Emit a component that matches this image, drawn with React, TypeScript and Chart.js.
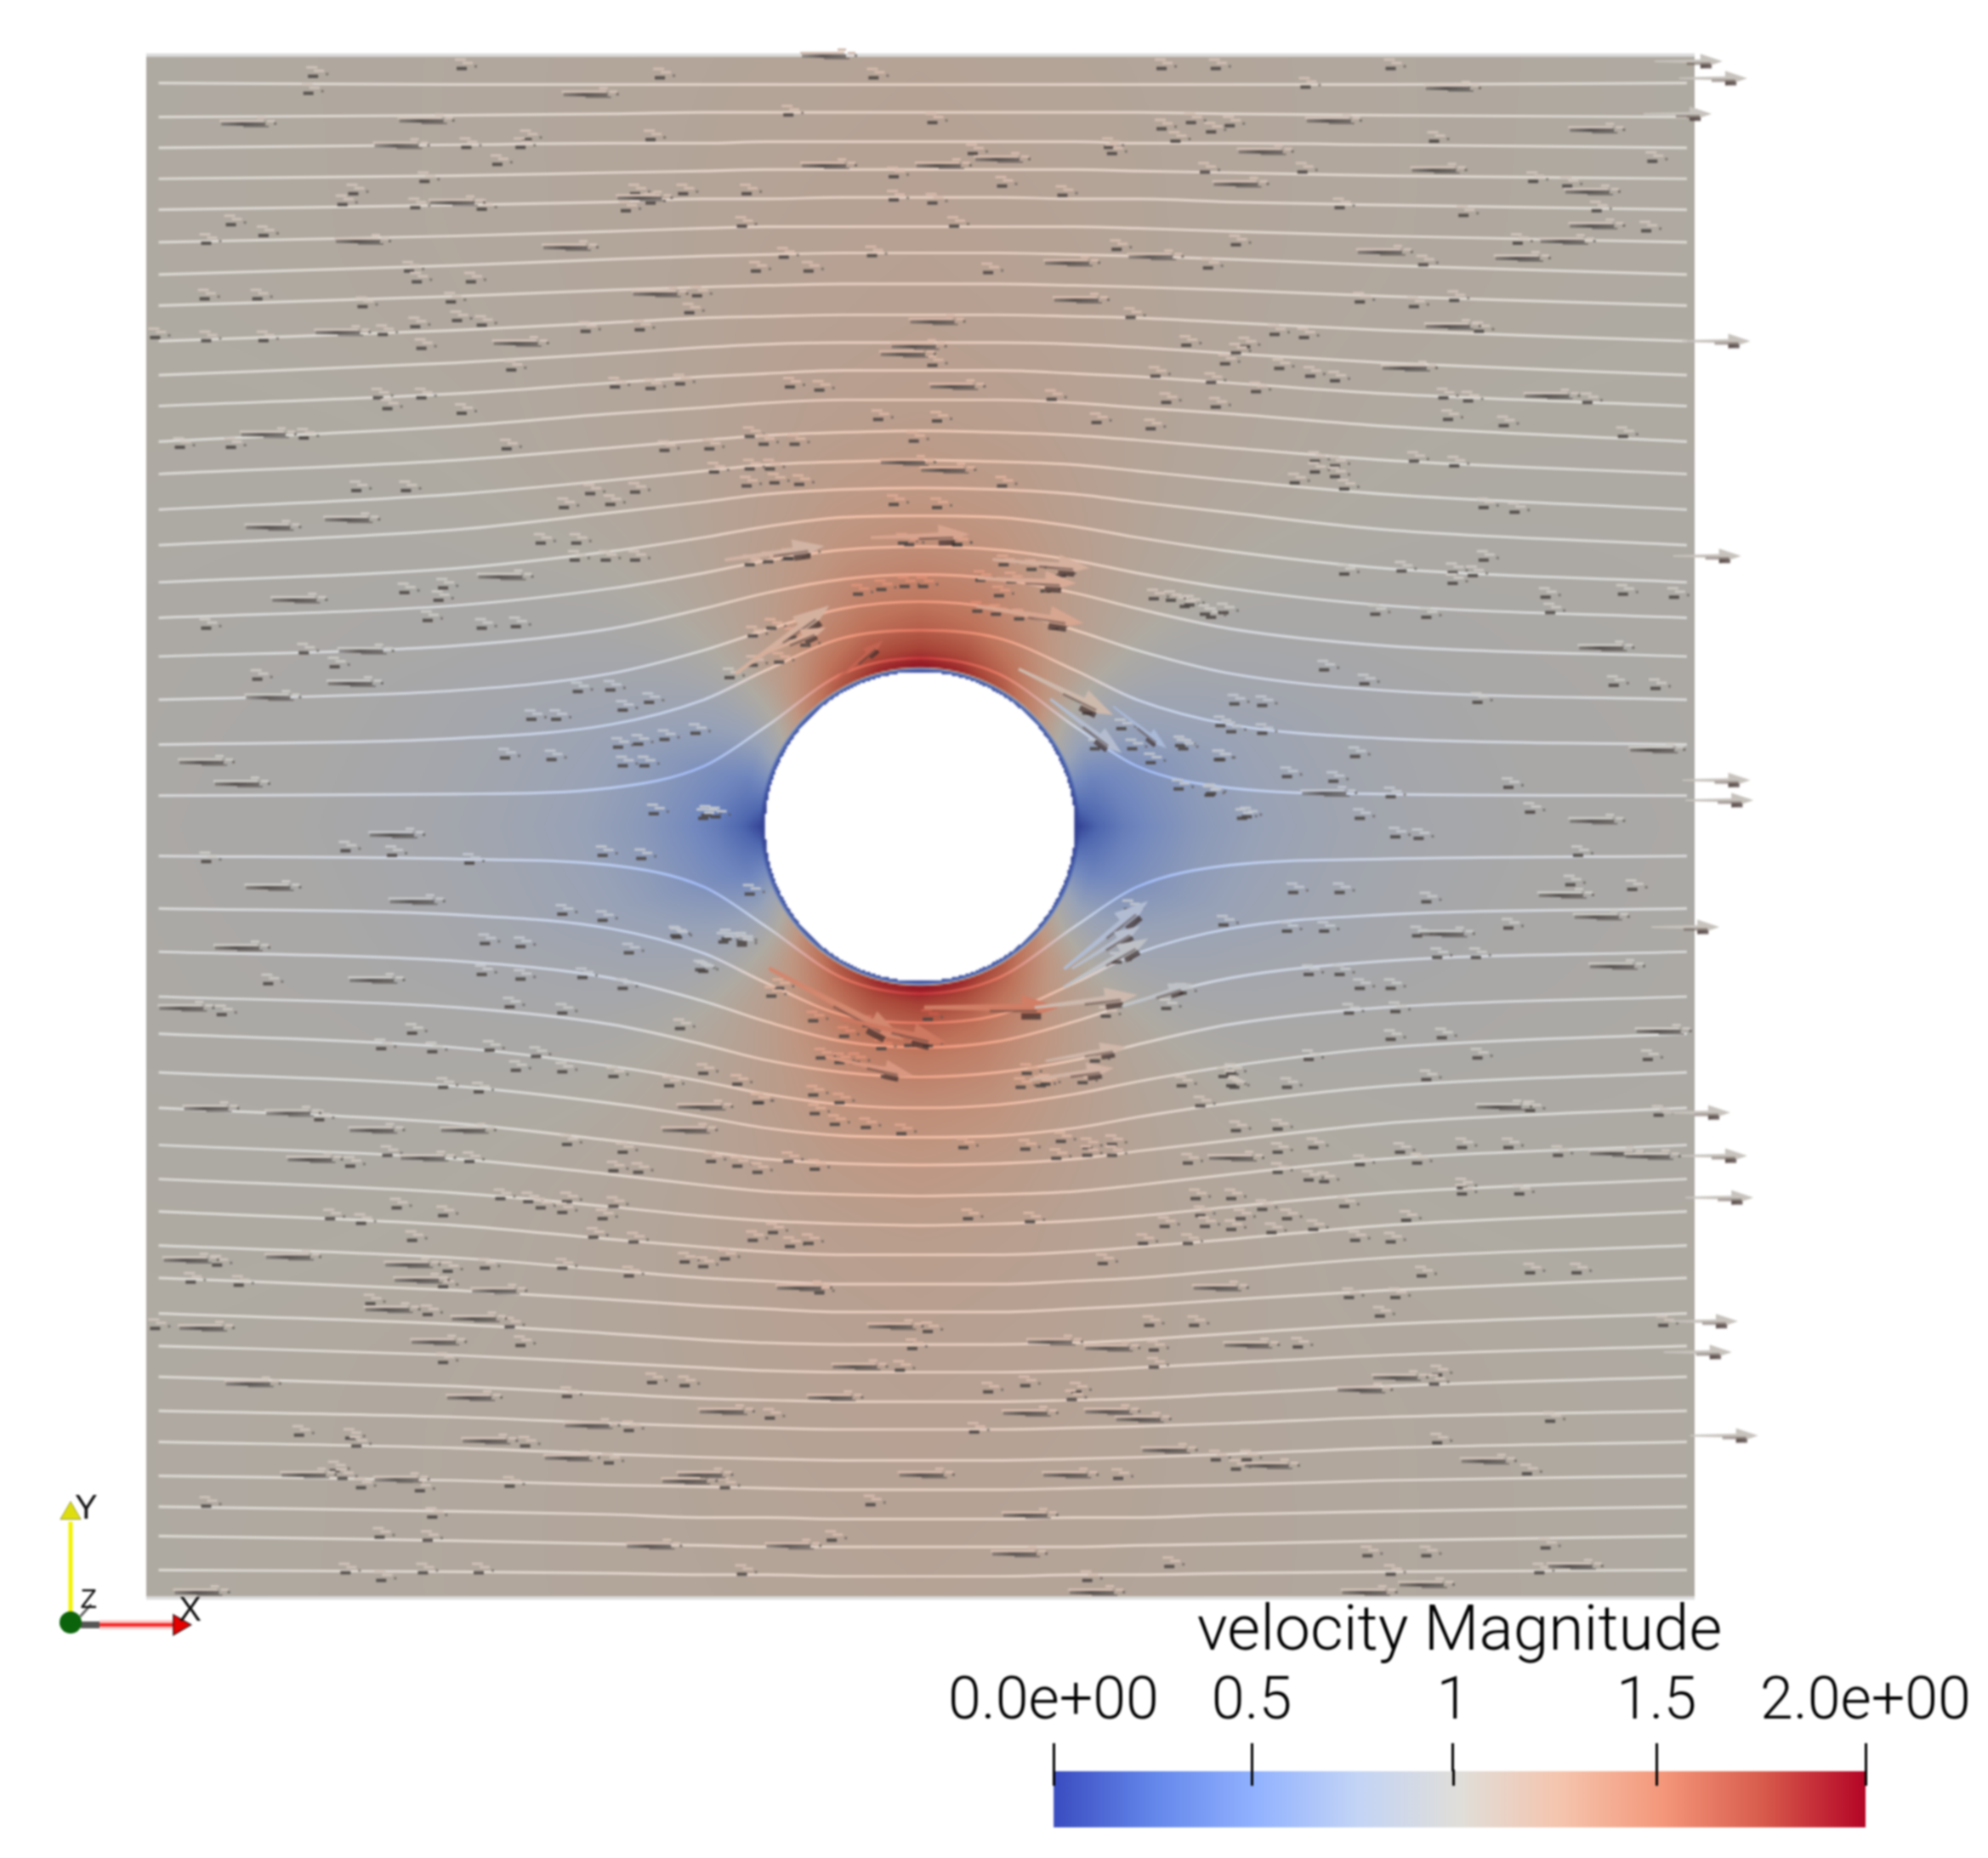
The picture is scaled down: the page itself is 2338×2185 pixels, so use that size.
import React, { useEffect, useRef } from "react";
import { Chart, registerables } from "chart.js";

Chart.register(...registerables);

/* ---------- colour map ---------- */
const CM_VALUES = [0, 0.25, 0.5, 0.75, 1, 1.25, 1.5, 1.75, 2];
const CM_COLORS = [
  [58, 76, 192], [100, 135, 235], [146, 178, 255], [195, 212, 245], [224, 222, 217],
  [245, 196, 173], [244, 151, 122], [215, 90, 75], [180, 4, 38],
];
const LEGEND_TICK_VALUES = [0, 0.488, 0.984, 1.485, 2];
const LEGEND_TICK_LABELS = ["0.0e+00", "0.5", "1", "1.5", "2.0e+00"];

/* ---------- velocity magnitude (radius / angle table around the cylinder) ---------- */
const FIELD_RADII = [1, 1.02, 1.035, 1.07, 1.15, 1.3, 1.5, 1.8, 2.2, 2.7, 3.3, 4, 5, 6, 7.2];
const FIELD_ANGLES = [0, 15, 30, 45, 60, 75, 90];
const SPEED_AT_0 = [0.02, 0.03, 0.06, 0.12, 0.24, 0.4, 0.53, 0.66, 0.75, 0.83, 0.89, 0.93, 0.96, 0.97, 0.98];
const SPEED_AT_15 = [0.05, 0.2, 0.5, 0.48, 0.45, 0.52, 0.6, 0.7, 0.79, 0.86, 0.91, 0.95, 0.97, 0.98, 0.99];
const SPEED_AT_30 = [0.05, 0.3, 0.95, 0.9, 0.82, 0.79, 0.8, 0.85, 0.9, 0.94, 0.97, 0.98, 0.99, 1, 1];
const SPEED_AT_45 = [0.05, 0.35, 1.37, 1.33, 1.25, 1.16, 1.1, 1.06, 1.04, 1.03, 1.03, 1.02, 1.02, 1.01, 1];
const SPEED_AT_60 = [0.05, 0.35, 1.67, 1.62, 1.53, 1.39, 1.28, 1.19, 1.13, 1.09, 1.07, 1.05, 1.04, 1.03, 1.02];
const SPEED_AT_75 = [0.05, 0.35, 1.87, 1.81, 1.7, 1.54, 1.41, 1.29, 1.2, 1.14, 1.11, 1.09, 1.07, 1.05, 1.03];
const SPEED_AT_90 = [0.05, 0.35, 1.94, 1.88, 1.76, 1.6, 1.45, 1.32, 1.23, 1.16, 1.13, 1.11, 1.09, 1.08, 1.07];
const SPEED_TABLE = [SPEED_AT_0, SPEED_AT_15, SPEED_AT_30, SPEED_AT_45, SPEED_AT_60, SPEED_AT_75, SPEED_AT_90];

/* ---------- streamlines: y at stations, left half, mirrored on the right ---------- */
const STATION_X = [-4.92, -3, -2, -1.4, -1, -0.5, 0, 0.5, 1, 1.4, 2, 3, 4.95];
const LINES_TOP = [
  [4.81, 4.8, 4.8, 4.8, 4.8, 4.8, 4.8],
  [4.59, 4.6, 4.61, 4.62, 4.62, 4.62, 4.62],
  [4.39, 4.41, 4.42, 4.42, 4.43, 4.43, 4.43],
  [4.19, 4.21, 4.23, 4.24, 4.25, 4.25, 4.25],
  [3.99, 4.02, 4.04, 4.06, 4.06, 4.07, 4.07],
  [3.78, 3.82, 3.85, 3.87, 3.88, 3.88, 3.88],
  [3.57, 3.63, 3.67, 3.69, 3.7, 3.71, 3.71],
  [3.37, 3.43, 3.47, 3.49, 3.5, 3.51, 3.51],
  [3.14, 3.21, 3.26, 3.29, 3.3, 3.31, 3.31],
  [2.92, 3.0, 3.06, 3.1, 3.12, 3.13, 3.13],
  [2.72, 2.8, 2.87, 2.91, 2.93, 2.95, 2.95],
  [2.49, 2.59, 2.67, 2.71, 2.74, 2.76, 2.76],
  [2.28, 2.37, 2.45, 2.5, 2.53, 2.55, 2.56],
  [2.05, 2.15, 2.24, 2.3, 2.34, 2.36, 2.37],
  [1.82, 1.92, 2.03, 2.1, 2.15, 2.18, 2.19],
  [1.58, 1.67, 1.78, 1.87, 1.94, 2.0, 2.01],
  [1.35, 1.43, 1.54, 1.64, 1.72, 1.79, 1.81],
  [1.1, 1.17, 1.28, 1.41, 1.51, 1.6, 1.63],
  [0.82, 0.88, 0.99, 1.14, 1.27, 1.41, 1.455],
  [0.53, 0.57, 0.66, 0.82, 1.01, 1.22, 1.27],
  [0.2, 0.21, 0.25, 0.39, 0.645, 0.99, 1.09],
];
const LINES_BOTTOM = [
  [-0.19, -0.21, -0.25, -0.39, -0.645, -0.98, -1.08],
  [-0.53, -0.57, -0.66, -0.82, -1.01, -1.22, -1.27],
  [-0.81, -0.87, -0.98, -1.13, -1.26, -1.39, -1.43],
  [-1.1, -1.17, -1.28, -1.41, -1.51, -1.59, -1.62],
  [-1.34, -1.43, -1.55, -1.65, -1.73, -1.8, -1.82],
  [-1.59, -1.68, -1.79, -1.88, -1.95, -2.0, -2.01],
  [-1.82, -1.92, -2.03, -2.1, -2.15, -2.18, -2.19],
  [-2.06, -2.15, -2.25, -2.32, -2.36, -2.38, -2.39],
  [-2.28, -2.37, -2.46, -2.52, -2.55, -2.57, -2.58],
  [-2.49, -2.58, -2.67, -2.72, -2.75, -2.77, -2.77],
  [-2.71, -2.79, -2.87, -2.92, -2.94, -2.96, -2.96],
  [-2.92, -3.0, -3.06, -3.1, -3.12, -3.14, -3.14],
  [-3.15, -3.22, -3.28, -3.32, -3.34, -3.35, -3.35],
  [-3.36, -3.42, -3.47, -3.5, -3.52, -3.53, -3.53],
  [-3.56, -3.62, -3.67, -3.7, -3.71, -3.72, -3.72],
  [-3.78, -3.82, -3.86, -3.88, -3.89, -3.9, -3.9],
  [-3.98, -4.02, -4.06, -4.08, -4.09, -4.1, -4.1],
  [-4.2, -4.23, -4.26, -4.27, -4.28, -4.29, -4.29],
  [-4.4, -4.43, -4.45, -4.47, -4.47, -4.48, -4.48],
  [-4.59, -4.62, -4.64, -4.65, -4.66, -4.66, -4.66],
  [-4.81, -4.82, -4.83, -4.84, -4.84, -4.85, -4.85],
];

/* ---------- glyphs: [x, y] ---------- */
const LONG_GLYPHS = [
  [-0.59,4.99],[-2.13,4.74],[-4.34,4.55],[-3.19,4.57],[2.67,4.57],[3.44,4.78],[4.37,4.51],[-3.35,4.41],[2.23,4.37],[0.53,4.32],
  [-0.59,4.28],[0.15,4.28],[3.35,4.25],[2.07,4.16],[4.34,4.11],[-2.99,4.04],[-1.78,4.07],[-3.6,3.79],[4.18,3.79],[4.37,3.89],
  [-2.26,3.75],[1.52,3.69],[3.89,3.68],[3.0,3.72],[0.98,3.65],[-1.68,3.45],[1.04,3.41],[3.44,3.24],[0.11,3.27],[-3.73,3.2],
  [-2.58,3.13],[-0.08,3.06],[-0.01,3.11],[3.16,2.97],[0.24,2.85],[4.08,2.79],[-4.21,2.54],[-4.18,1.94],[-3.67,1.99],[-0.08,2.36],
  [0.18,2.31],[-4.61,0.42],[-4.38,0.28],[-4.01,1.47],[-2.68,1.62],[-3.58,1.14],[-3.65,0.93],[-4.18,0.84],[4.43,1.16],[4.76,0.5],
  [4.37,0.04],[-3.38,-0.05],[-4.18,-0.39],[-3.25,-0.48],[4.17,-0.44],[4.4,-0.58],[-3.51,-0.99],[4.5,-0.9],[4.8,-1.32],[2.64,0.22],
  [3.4,-0.69],[-4.38,-0.78],[-4.74,-1.17],[-4.58,-1.82],[-4.05,-1.85],[-1.39,-1.81],[-1.49,-1.96],[-3.51,-1.96],[-2.92,-1.96],
  [-3.91,-2.15],[-3.18,-2.14],[2.04,-2.14],[-4.05,-2.78],[-4.71,-2.8],[-3.28,-2.83],[-3.22,-2.93],[-2.72,-3.0],[-0.75,-2.98],
  [1.94,-2.98],[-3.41,-3.12],[-2.85,-3.18],[-4.61,-3.24],[-0.16,-3.23],[-3.11,-3.33],[0.87,-3.33],[1.24,-3.37],[2.14,-3.35],
  [-0.39,-3.49],[-4.31,-3.6],[3.1,-3.56],[-2.88,-3.69],[-0.55,-3.69],[2.87,-3.64],[0.71,-3.79],[-1.25,-3.78],[1.44,-3.83],
  [1.24,-3.78],[-2.12,-3.87],[-2.78,-3.97],[1.61,-4.03],[-2.25,-4.08],[3.67,-4.1],[2.27,-4.13],[0.04,-4.19],[-3.95,-4.19],
  [-3.35,-4.22],[-1.49,-4.23],[-1.39,-4.19],[0.97,-4.19],[0.71,-4.45],[-0.82,-4.65],[-1.72,-4.65],[0.64,-4.7],[1.14,-4.95],
  [2.9,-4.95],[3.27,-4.9],[-4.64,-4.95],[4.23,-4.78],[4.5,-2.11],[4.73,-2.13],[3.77,-1.81],
];
const SMALL_GLYPHS = [
  [-2.93,4.92],[-3.89,4.87],[-1.65,4.86],[-0.27,4.86],[1.59,4.92],[1.94,4.92],[3.07,4.92],[2.52,4.8],[-3.92,4.76],[-0.82,4.62],
  [0.11,4.57],[1.78,4.57],[2.03,4.55],[1.59,4.53],[1.91,4.51],[-2.51,4.46],[-1.71,4.46],[-2.9,4.41],[-2.55,4.41],[1.68,4.45],
  [3.35,4.45],[1.25,4.41],[0.37,4.37],[1.27,4.37],[4.76,4.32],[-2.7,4.3],[1.87,4.25],[2.5,4.25],[-0.14,4.22],[-3.17,4.19],
  [3.99,4.19],[0.56,4.16],[4.21,4.16],[-3.63,4.11],[-1.81,4.11],[-1.5,4.11],[-1.09,4.11],[0.95,4.1],[-0.14,4.07],[0.11,4.05],
  [-3.7,4.04],[-3.23,4.02],[-2.8,4.01],[-1.71,4.05],[-1.87,4.0],[2.74,4.02],[3.54,3.97],[4.4,4.0],[-4.42,3.91],[-1.12,3.9],
  [0.25,3.9],[-4.21,3.84],[4.72,3.87],[-4.58,3.79],[3.89,3.79],[2.07,3.78],[1.3,3.75],[-0.85,3.7],[-0.28,3.71],[3.28,3.65],
  [1.89,3.63],[-1.03,3.61],[-0.69,3.61],[0.47,3.6],[-3.27,3.61],[-3.22,3.54],[-2.87,3.54],[-4.59,3.43],[-4.25,3.43],[-3.57,3.38],
  [-3.0,3.41],[-1.41,3.45],[-1.46,3.34],[2.87,3.41],[3.48,3.42],[3.22,3.38],[1.39,3.31],[-2.96,3.29],[-2.8,3.26],[-3.23,3.25],
  [-2.13,3.22],[-1.78,3.23],[3.64,3.22],[2.32,3.2],[2.51,3.18],[-3.44,3.2],[-4.58,3.16],[-4.21,3.16],[-4.91,3.18],[-3.19,3.11],
  [1.75,3.13],[2.13,3.12],[2.07,3.08],[-2.61,2.97],[2.0,3.01],[2.35,2.98],[0.11,3.0],[1.55,2.93],[2.55,2.93],[2.71,2.9],
  [-1.94,2.86],[-1.71,2.85],[-1.52,2.88],[-0.81,2.86],[-0.62,2.84],[1.91,2.89],[2.2,2.83],[-3.47,2.79],[-3.19,2.79],[-3.41,2.72],
  [0.88,2.78],[1.62,2.76],[1.94,2.73],[3.41,2.79],[3.57,2.77],[4.34,2.76],[-2.93,2.69],[-0.24,2.65],[0.14,2.64],[1.17,2.63],
  [1.52,2.59],[3.44,2.65],[3.8,2.61],[4.57,2.54],[-3.95,2.53],[-4.75,2.47],[-4.42,2.47],[-2.64,2.46],[-1.07,2.54],[-0.98,2.49],
  [-0.78,2.49],[-1.33,2.46],[-1.62,2.45],[-0.01,2.51],[2.58,2.38],[3.22,2.38],[3.48,2.35],[2.71,2.35],[2.58,2.31],[2.71,2.28],
  [2.45,2.24],[2.77,2.2],[-1.3,2.31],[-1.07,2.33],[-0.94,2.33],[-1.09,2.22],[-0.91,2.24],[-0.75,2.23],[0.56,2.22],[-3.61,2.19],
  [-3.29,2.19],[-1.81,2.18],[-2.1,2.17],[-1.97,2.1],[-2.27,2.08],[-0.14,2.1],[0.14,2.08],[3.67,2.08],[3.87,2.05],[-0.08,1.85],
  [0.27,1.84],[-2.42,1.85],[-2.19,1.85],[-2.2,1.74],[-2.0,1.74],[-1.81,1.74],[-0.82,1.75],[3.67,1.74],
  [-3.3,1.53],[-3.08,1.48],[-3.05,1.56],[-3.15,1.35],[-2.8,1.3],[-2.58,1.31],[-4.58,1.3],[-3.95,1.14],[-3.75,1.05],[-4.25,0.97],
  [-2.18,0.89],[-1.97,0.9],[-2.48,0.71],[-2.32,0.71],[-1.89,0.77],[-1.72,0.82],[-1.92,0.53],[-1.79,0.55],[-1.42,0.62],[-1.62,0.58],
  [-2.65,0.46],[-2.35,0.45],[-1.89,0.41],[-1.75,0.41],[-1.69,0.1],[-1.35,0.09],[-3.68,-0.14],[-3.38,-0.17],[-4.58,-0.21],[-2.88,-0.22],
  [-2.02,-0.17],[-1.77,-0.19],[-2.28,-0.55],[-2.02,-0.59],[-1.55,-0.69],[-1.22,-0.71],[-1.12,-0.73],[-2.78,-0.74],[-2.55,-0.76],[-1.85,-0.8],
  [-1.39,-0.91],[-2.8,-0.94],[-2.55,-0.97],[-2.15,-0.96],[-1.89,-1.03],[-4.18,-1.0],[-2.62,-1.15],[-2.28,-1.19],[-4.48,-1.2],[-3.25,-1.32],
  [-3.45,-1.42],[-3.12,-1.44],[-2.75,-1.43],[-2.45,-1.47],[-1.52,-1.29],[-2.58,-1.56],[-2.28,-1.57],[-1.95,-1.6],
  [1.91,1.37],[1.74,1.44],[2.77,1.65],[3.14,1.67],[3.47,1.66],[3.6,1.64],[3.47,1.59],[4.07,1.5],[4.57,1.52],[4.9,1.5],
  [4.1,1.4],[2.97,1.39],[3.3,1.37],[2.64,1.03],[2.9,0.94],[4.51,0.93],[4.78,0.91],[3.63,0.82],[2.24,0.8],[1.97,0.67],
  [2.24,0.62],[1.71,0.54],[1.97,0.45],[2.84,0.47],[2.4,0.34],[2.7,0.31],[3.83,0.27],[1.91,0.23],[3.07,0.21],[2.14,0.08],
  [2.87,0.07],[3.97,0.11],[3.1,-0.05],[3.25,-0.06],[4.28,-0.17],[2.44,-0.41],[2.74,-0.41],[4.23,-0.36],[4.63,-0.39],[3.3,-0.47],
  [2.4,-0.66],[2.64,-0.66],[3.83,-0.64],[3.24,-0.69],[3.37,-0.83],[3.62,-0.83],[2.54,-0.94],[2.74,-0.94],[2.87,-1.03],[3.07,-1.03],
  [2.8,-1.19],[3.1,-1.18],[3.07,-1.36],[3.4,-1.35],[3.63,-1.48],[4.73,-1.49],[2.54,-1.49],[2.04,-1.58],[3.3,-1.62],
  [-3.05,-1.67],[-2.82,-1.7],[-3.85,-1.88],[-0.65,-1.84],[-1.02,-1.77],[-0.49,-1.77],[-0.52,-1.91],[-0.32,-1.93],[-0.09,-1.97],[1.84,-1.79],
  [2.04,-1.66],[0.68,-1.67],[0.84,-1.65],[2.4,-1.67],[4.8,-1.85],[3.97,-1.82],[2.34,-1.94],[2.07,-1.95],[-2.25,-2.04],[-1.89,-2.09],
  [-3.65,-2.18],[-3.41,-2.11],[-2.88,-2.15],[-1.32,-2.15],[-1.15,-2.18],[-0.82,-2.15],[-0.65,-2.2],[-1.95,-2.21],[-1.79,-2.22],[-1.02,-2.22],
  [0.31,-2.06],[0.71,-2.07],[0.94,-2.02],[1.11,-2.06],[1.27,-2.04],[0.91,-2.13],[1.11,-2.11],[1.27,-2.11],[1.76,-2.16],[2.34,-2.09],
  [2.57,-2.06],[2.87,-2.17],[3.13,-2.09],[3.24,-2.16],[3.53,-2.06],[3.83,-2.06],[4.15,-2.11],[2.34,-2.22],[2.54,-2.27],[2.64,-2.28],
  [3.53,-2.32],[3.9,-2.36],[3.53,-2.36],[1.81,-2.39],[2.04,-2.39],[-2.68,-2.39],[-2.5,-2.41],[-2.25,-2.41],[-2.42,-2.45],[-2.28,-2.48],
  [-1.95,-2.44],[-2.02,-2.52],[-3.35,-2.45],[-3.05,-2.5],[-3.78,-2.52],[-3.58,-2.55],[0.34,-2.52],[0.74,-2.54],[1.84,-2.5],[2.1,-2.52],
  [2.4,-2.52],[2.24,-2.46],[1.61,-2.57],[1.87,-2.57],[2.04,-2.59],[2.3,-2.61],[2.57,-2.59],[2.84,-2.66],[3.07,-2.67],[3.17,-2.53],
  [2.77,-2.44],[-2.08,-2.64],[-1.82,-2.67],[-1.05,-2.66],[-0.81,-2.7],[-0.69,-2.68],[-0.92,-2.61],[1.47,-2.68],[1.76,-2.68],[-3.25,-2.66],
  [-1.49,-2.8],[-1.23,-2.78],[-1.37,-2.83],[1.21,-2.81],[-4.51,-2.82],[-2.78,-2.84],[-2.28,-2.84],[-1.85,-2.89],[-3.02,-2.86],[-4.68,-2.93],
  [-4.37,-2.95],[-3.05,-2.96],[3.27,-2.89],[3.97,-2.87],[4.27,-2.87],[-0.62,-3.0],[2.8,-3.03],[3.1,-3.03],[-3.52,-3.07],[-3.15,-3.14],
  [-2.62,-3.22],[-4.91,-3.23],[1.51,-3.21],[1.8,-3.21],[3.0,-3.15],[0.08,-3.25],[4.83,-3.21],[-2.55,-3.34],[-0.02,-3.36],[1.54,-3.37],
  [2.47,-3.35],[-3.05,-3.45],[-0.1,-3.5],[1.54,-3.48],[-1.7,-3.58],[-1.49,-3.6],[0.71,-3.6],[0.47,-3.64],[1.04,-3.64],[1.01,-3.69],
  [3.37,-3.53],[3.35,-3.59],[-2.25,-3.67],[-0.94,-3.81],[4.1,-3.83],[-3.98,-3.92],[-3.65,-3.94],[-1.85,-3.89],[0.38,-3.9],[-3.61,-3.99],
  [-2.52,-3.99],[3.37,-3.97],[1.94,-4.08],[2.14,-4.08],[2.07,-4.14],[-1.98,-4.1],[-3.75,-4.15],[-3.7,-4.2],[-3.58,-4.26],[-3.2,-4.28],
  [-2.62,-4.25],[-1.23,-4.26],[1.31,-4.2],[3.95,-4.17],[-0.29,-4.37],[-4.58,-4.38],[-3.12,-4.45],[-3.46,-4.58],[-3.15,-4.6],[-0.54,-4.6],
  [4.07,-4.65],[2.92,-4.7],[3.3,-4.7],[1.64,-4.77],[-3.68,-4.81],[-3.45,-4.86],[-3.18,-4.81],[-2.82,-4.81],[-1.12,-4.82],[3.07,-4.82],
  [1.11,-4.86],[4.03,-4.81],
  [-1.07,1.71],[-0.95,1.73],[-0.82,1.75],[-0.71,1.78],[-0.04,1.84],[0.27,1.84],[0.57,1.71],[0.75,1.68],[0.94,1.64],[-0.37,1.52],
  [-0.22,1.55],[-0.07,1.57],[0.05,1.57],[0.42,1.61],[0.62,1.6],[0.54,1.51],[0.84,1.54],[0.4,1.41],[0.52,1.39],[0.67,1.36],
  [0.89,1.3],[1.54,1.49],[1.65,1.48],[1.77,1.45],[1.87,1.39],[1.99,1.4],[-1.05,1.25],[-0.93,1.3],[-0.8,1.24],[-0.71,1.19],
  [-1.05,1.06],[-0.88,1.08],[-1.2,0.98],[1.11,0.75],[1.33,0.65],[1.4,0.52],[1.52,0.43],[1.16,0.52],[1.96,0.45],[1.73,0.52],
  [1.7,0.26],[1.9,0.22],[2.04,0.63],[2.06,0.81],[2.11,0.07],[-1.37,0.07],[-1.29,0.08],[-1.54,-0.7],[-1.24,-0.73],[-1.12,-0.75],
  [-1.37,-0.92],[-1.07,-0.42],[-0.88,-1.03],[-0.93,-1.08],[-0.66,-1.24],[-0.46,-1.34],[-0.31,-1.27],[-0.22,-1.42],[0.08,-1.23],[-0.04,-1.4],
  [-0.19,-1.6],[0.08,-1.4],[1.38,-0.52],[1.3,-0.86],[1.72,-1.06],[1.23,-1.21],[1.62,-1.16],[1.16,-1.5],[1.08,-1.64],[0.81,-1.66],
  [0.72,-1.58],[1.99,-0.62],[1.72,-1.66],[1.99,-1.6],[2.06,-1.67],[-1.15,-1.65],[-1.37,-1.58],[-1.59,-1.66],[-0.61,-1.48],[-0.49,-1.51],
  [-0.39,-1.51],[-1.01,-1.77],[-0.66,-1.72],
];
/* big arrows: [x, y, length, clockwise angle in degrees] */
const BIG_ARROWS = [
  [0.46,-1.17,0.87,0],[-0.4,1.07,0.42,-40],[0.94,0.87,0.68,26],[1.07,0.65,0.58,37],[1.42,0.64,0.44,38],
  [0.71,1.37,0.7,9],[0.69,1.59,0.64,3],[0.78,1.7,0.63,5],[-0.89,1.21,0.75,-36],[-0.84,1.19,0.5,-23],
  [0,1.88,0.64,-2],[1.2,-0.7,0.7,-39],[1.2,-0.78,0.52,-32],[1.2,-0.88,0.63,-30],[1.07,-1.13,0.67,-7],
  [1.53,-1.09,0.48,-18],[-0.54,-1.15,0.99,28],[-0.17,-1.32,0.7,13],[0.98,-1.6,0.55,-8],[1.07,-1.47,0.53,-10],
  [-0.33,-1.55,0.58,12],[-0.94,1.77,0.65,-8],
];
/* arrows leaving the right edge: [y of arrow, x of tip] */
const EDGE_ARROWS = [
  [4.95,5.18],[4.84,5.34],[4.61,5.11],[3.14,5.36],[1.75,5.3],[0.3,5.36],[0.17,5.38],[-0.65,5.16],
  [-1.85,5.23],[-2.13,5.34],[-2.4,5.38],[-3.2,5.28],[-3.4,5.24],[-3.94,5.41],
];

const TRIAD_LABELS = ["X", "Y", "Z"];
const LEGEND_TITLE = "velocity Magnitude";
const PAGE_W = 2338;
const PAGE_H = 2185;

/* ---------- helpers ---------- */
function lerpIdx(arr: number[], v: number) {
  if (v <= arr[0]) return [0, 0];
  for (let i = 1; i < arr.length; i++) {
    if (v <= arr[i]) return [i - 1, (v - arr[i - 1]) / (arr[i] - arr[i - 1])];
  }
  return [arr.length - 2, 1];
}
function speedAt(x: number, y: number) {
  const r = Math.hypot(x, y);
  const th = (Math.atan2(Math.abs(y), Math.abs(x)) * 180) / Math.PI;
  const [ir, fr] = lerpIdx(FIELD_RADII, r);
  const [ia, fa] = lerpIdx(FIELD_ANGLES, th);
  const ia2 = Math.min(ia + 1, FIELD_ANGLES.length - 1);
  const a = SPEED_TABLE[ia][ir] * (1 - fr) + SPEED_TABLE[ia][ir + 1] * fr;
  const b = SPEED_TABLE[ia2][ir] * (1 - fr) + SPEED_TABLE[ia2][ir + 1] * fr;
  return a * (1 - fa) + b * fa;
}
function cmap(v: number) {
  const [i, f] = lerpIdx(CM_VALUES, Math.max(0, Math.min(2, v)));
  const c0 = CM_COLORS[i];
  const c1 = CM_COLORS[i + 1];
  return [c0[0] + (c1[0] - c0[0]) * f, c0[1] + (c1[1] - c0[1]) * f, c0[2] + (c1[2] - c0[2]) * f];
}
const rgb = (c: number[], k = 1) => `rgb(${Math.round(c[0] * k)},${Math.round(c[1] * k)},${Math.round(c[2] * k)})`;
const rgba = (c: number[], a: number) => `rgba(${Math.round(c[0])},${Math.round(c[1])},${Math.round(c[2])},${a})`;

function smallSprite(v: number) {
  const c = document.createElement("canvas");
  c.width = 34; c.height = 20;
  const g = c.getContext("2d")!;
  g.fillStyle = rgb(cmap(Math.max(v, 0.85) + 0.05), 0.9);
  g.fillRect(3, 1, 13, 3);
  g.fillRect(12, 5, 12, 3);
  g.fillStyle = "rgba(74,68,66,0.85)";
  g.fillRect(5, 11, 12, 4);
  g.fillStyle = "rgba(90,85,80,0.6)";
  g.fillRect(26, 9, 3, 3);
  return c;
}
function longSprite(v: number) {
  const c = document.createElement("canvas");
  c.width = 72; c.height = 18;
  const g = c.getContext("2d")!;
  g.fillStyle = rgb(cmap(Math.max(v, 0.85) + 0.05), 0.9);
  g.fillRect(2, 5, 52, 3);
  g.fillRect(46, 1, 10, 3);
  g.fillRect(58, 5, 9, 3);
  const d = g.createLinearGradient(0, 0, 56, 0);
  d.addColorStop(0, "rgba(100,95,92,0.5)");
  d.addColorStop(0.5, "rgba(72,67,66,0.85)");
  d.addColorStop(1, "rgba(85,80,78,0.7)");
  g.fillStyle = d;
  g.fillRect(4, 8, 52, 4);
  g.fillStyle = "rgba(80,75,72,0.55)";
  g.fillRect(30, 12, 30, 2);
  g.fillStyle = "rgba(90,85,80,0.7)";
  g.fillRect(66, 8, 3, 3);
  return c;
}
function arrowSprite(lenPx: number, v: number) {
  const head = Math.min(lenPx * 0.3, 42);
  const half = Math.min(lenPx * 0.11, 15);
  const shaft = Math.max(2, Math.min(lenPx * 0.028, 4.5));
  const c = document.createElement("canvas");
  c.width = Math.ceil(lenPx) + 4; c.height = Math.ceil(half * 2) + 6;
  const g = c.getContext("2d")!;
  const cy = c.height / 2;
  const col = cmap(v);
  g.fillStyle = rgb(col, v > 1.4 ? 0.86 : 0.88);
  g.beginPath();
  g.moveTo(2, cy - shaft * 0.5);
  g.lineTo(lenPx - head, cy - shaft);
  g.lineTo(lenPx - head, cy - half);
  g.lineTo(lenPx + 2, cy);
  g.lineTo(lenPx - head, cy + half);
  g.lineTo(lenPx - head, cy + shaft);
  g.lineTo(2, cy + shaft * 0.5);
  g.closePath();
  g.fill();
  g.fillStyle = "rgba(75,55,50,0.45)";
  g.fillRect(lenPx * 0.5, cy + shaft * 0.6, lenPx * 0.35, 3);
  g.fillStyle = "rgba(55,40,38,0.7)";
  g.fillRect(lenPx - head, cy + half * 0.45, head * 0.55, Math.max(3, half * 0.5));
  return c;
}

function buildField(chart: any) {
  const sc = 2;
  const X = chart.scales.x;
  const Y = chart.scales.y;
  const x0 = X.getPixelForValue(-5);
  const x1 = X.getPixelForValue(5);
  const y0 = Y.getPixelForValue(5);
  const y1 = Y.getPixelForValue(-5);
  const w = Math.ceil((x1 - x0) / sc);
  const h = Math.ceil((y1 - y0) / sc);
  const off = document.createElement("canvas");
  off.width = w; off.height = h;
  const g = off.getContext("2d")!;
  const img = g.createImageData(w, h);
  for (let j = 0; j < h; j++) {
    const dy = Y.getValueForPixel(y0 + (j + 0.5) * sc);
    for (let i = 0; i < w; i++) {
      const dx = X.getValueForPixel(x0 + (i + 0.5) * sc);
      const k = (j * w + i) * 4;
      if (dx * dx + dy * dy < 1) { img.data[k + 3] = 0; continue; }
      const c = cmap(speedAt(dx, dy));
      img.data[k] = c[0] * 0.78;
      img.data[k + 1] = c[1] * 0.765;
      img.data[k + 2] = c[2] * 0.745;
      img.data[k + 3] = 255;
    }
  }
  g.putImageData(img, 0, 0);
  return { off, x0, y0, w: x1 - x0, h: y1 - y0 };
}

const fieldPlugin = {
  id: "fieldPlugin",
  beforeDatasetsDraw(chart: any) {
    if (!chart.$field) chart.$field = buildField(chart);
    const f = chart.$field;
    const ctx = chart.ctx;
    ctx.save();
    ctx.imageSmoothingEnabled = true;
    ctx.imageSmoothingQuality = "high";
    ctx.drawImage(f.off, f.x0, f.y0, f.w, f.h);
    ctx.restore();
  },
};
const triadTextPlugin = {
  id: "triadText",
  afterDatasetsDraw(chart: any) {
    const ctx = chart.ctx;
    const px = (v: number) => chart.scales.tx.getPixelForValue(v);
    const py = (v: number) => chart.scales.ty.getPixelForValue(v);
    ctx.save();
    ctx.fillStyle = "#111";
    ctx.textAlign = "center";
    ctx.textBaseline = "middle";
    ctx.font = '40px "Liberation Sans"';
    ctx.fillText(TRIAD_LABELS[0], px(0.99), py(0.09));
    ctx.fillText(TRIAD_LABELS[1], px(0.13), py(0.94));
    ctx.font = '32px "Liberation Sans"';
    ctx.fillText(TRIAD_LABELS[2], px(0.15), py(0.18));
    ctx.restore();
  },
};
const legendTickPlugin = {
  id: "legendTicks",
  afterDatasetsDraw(chart: any) {
    const ctx = chart.ctx;
    const s = chart.scales.x;
    const top = chart.chartArea.top;
    ctx.save();
    ctx.strokeStyle = "#000";
    ctx.lineWidth = 3;
    for (const v of LEGEND_TICK_VALUES) {
      const x = Math.round(s.getPixelForValue(v)) + 0.5;
      ctx.beginPath();
      ctx.moveTo(x, top - 2);
      ctx.lineTo(x, top + 17);
      ctx.stroke();
    }
    ctx.restore();
  },
};

function streamDatasets() {
  const mirrored = (row: number[]) => [...row, ...row.slice(0, -1).reverse()];
  return [...LINES_TOP, ...LINES_BOTTOM].map((row) => {
    const ys = mirrored(row);
    const data = STATION_X.map((x, i) => ({ x, y: ys[i] }));
    return {
      type: "scatter",
      label: "streamline",
      showLine: true,
      order: 5,
      clip: false,
      data,
      pointRadius: 0,
      borderWidth: 3.2,
      cubicInterpolationMode: "monotone",
      borderColor: (c: any) => {
        const X = c.chart.scales.x;
        if (!X || !c.chart.chartArea || X.width === 0) return "#ddd";
        const a = X.getPixelForValue(data[0].x);
        const b = X.getPixelForValue(data[data.length - 1].x);
        const g = c.chart.ctx.createLinearGradient(a, 0, b, 0);
        data.forEach((p) => {
          g.addColorStop((X.getPixelForValue(p.x) - a) / (b - a), rgba(cmap(speedAt(p.x, p.y)), 0.88));
        });
        return g;
      },
    };
  });
}

export default function App() {
  const mainRef = useRef<HTMLCanvasElement>(null);
  const legendRef = useRef<HTMLCanvasElement>(null);

  useEffect(() => {
    document.body.style.margin = "0";
    document.body.style.background = "#fff";
    const smallSprites = SMALL_GLYPHS.map(([x, y]) => smallSprite(speedAt(x, y)));
    const longSprites = LONG_GLYPHS.map(([x, y]) => longSprite(speedAt(x, y)));
    const bigSprites = BIG_ARROWS.map(([x, y, l]) => arrowSprite(l * 182, speedAt(x, y)));
    const edgeSprites = EDGE_ARROWS.map(() => arrowSprite(80, 1.02));

    const main = new Chart(mainRef.current!, {
      type: "scatter",
      data: {
        datasets: [
          {
            label: "edge top", showLine: true, order: 6, clip: false, pointRadius: 0,
            borderColor: "#dcdcdc", borderWidth: 4,
            data: [{ x: -5, y: 4.99 }, { x: 5, y: 4.99 }],
          },
          {
            label: "edge bottom", showLine: true, order: 6, clip: false, pointRadius: 0,
            borderColor: "#dcdcdc", borderWidth: 4,
            data: [{ x: -5, y: -4.99 }, { x: 5, y: -4.99 }],
          },
          ...streamDatasets(),
          {
            label: "edge arrows", order: 3, clip: false, pointRadius: 1,
            data: EDGE_ARROWS.map(([y, tip]) => ({ x: tip - 0.22, y })),
            pointStyle: (c: any) => edgeSprites[c.dataIndex],
          },
          {
            label: "small glyphs", order: 3, clip: false, pointRadius: 1,
            data: SMALL_GLYPHS.map(([x, y]) => ({ x, y })),
            pointStyle: (c: any) => smallSprites[c.dataIndex],
          },
          {
            label: "long glyphs", order: 2, clip: false, pointRadius: 1,
            data: LONG_GLYPHS.map(([x, y]) => ({ x, y })),
            pointStyle: (c: any) => longSprites[c.dataIndex],
          },
          {
            label: "big glyphs", order: 1, clip: false, pointRadius: 1,
            data: BIG_ARROWS.map(([x, y]) => ({ x, y })),
            pointStyle: (c: any) => bigSprites[c.dataIndex],
            pointRotation: (c: any) => BIG_ARROWS[c.dataIndex]?.[3] ?? 0,
          },
          // orientation triad
          {
            label: "triad y", showLine: true, order: 1, clip: false, xAxisID: "tx", yAxisID: "ty", pointRadius: 0,
            borderColor: "#f2f200", borderWidth: 5, data: [{ x: 0, y: 0.08 }, { x: 0, y: 0.84 }],
          },
          {
            label: "triad x glow", showLine: true, order: 1, clip: false, xAxisID: "tx", yAxisID: "ty", pointRadius: 0,
            borderColor: "rgba(255,70,70,0.3)", borderWidth: 11, data: [{ x: 0.24, y: -0.02 }, { x: 0.85, y: -0.02 }],
          },
          {
            label: "triad x", showLine: true, order: 1, clip: false, xAxisID: "tx", yAxisID: "ty", pointRadius: 0,
            borderColor: "#f01a1a", borderWidth: 4, data: [{ x: 0.24, y: -0.02 }, { x: 0.85, y: -0.02 }],
          },
          {
            label: "triad z", showLine: true, order: 1, clip: false, xAxisID: "tx", yAxisID: "ty", pointRadius: 0,
            borderColor: "#555", borderWidth: 8, data: [{ x: 0.08, y: -0.02 }, { x: 0.24, y: -0.02 }],
          },
          {
            label: "triad z tail", showLine: true, order: 1, clip: false, xAxisID: "tx", yAxisID: "ty", pointRadius: 0,
            borderColor: "#666", borderWidth: 3, data: [{ x: 0.08, y: 0.05 }, { x: 0.17, y: 0.15 }],
          },
          {
            label: "triad cone x", order: 0, clip: false, xAxisID: "tx", yAxisID: "ty",
            pointStyle: "triangle", pointRadius: 14, pointRotation: 90,
            backgroundColor: "#e60000", borderColor: "rgba(0,0,0,0.65)", borderWidth: 1.5,
            data: [{ x: 0.9, y: -0.02 }],
          },
          {
            label: "triad cone y", order: 0, clip: false, xAxisID: "tx", yAxisID: "ty",
            pointStyle: "triangle", pointRadius: 14,
            backgroundColor: "#dddd10", borderColor: "rgba(80,80,0,0.5)", borderWidth: 1,
            data: [{ x: 0, y: 0.91 }],
          },
          {
            label: "triad origin", order: 0, clip: false, xAxisID: "tx", yAxisID: "ty",
            pointStyle: "circle", pointRadius: 13, backgroundColor: "#0b640b", borderWidth: 0,
            data: [{ x: 0, y: 0 }],
          },
        ],
      },
      options: {
        animation: false,
        responsive: false,
        devicePixelRatio: 1,
        layout: { padding: 0, autoPadding: false },
        plugins: { legend: { display: false }, tooltip: { enabled: false } },
        events: [],
        scales: {
          x: { type: "linear", display: false, min: -1082.5 / 182.1, max: (PAGE_W - 1082.5) / 182.1 },
          y: { type: "linear", display: false, min: (972 - PAGE_H) / 181.8, max: 972 / 181.8 },
          tx: { type: "linear", display: false, axis: "x", min: -83 / 142, max: (PAGE_W - 83) / 142 },
          ty: { type: "linear", display: false, axis: "y", min: (1908 - PAGE_H) / 141, max: 1908 / 141 },
        },
      },
      plugins: [fieldPlugin, triadTextPlugin],
    } as any);

    const legend = new Chart(legendRef.current!, {
      type: "bar",
      data: {
        labels: ["velocity"],
        datasets: [
          {
            label: LEGEND_TITLE,
            data: [2],
            barPercentage: 1,
            categoryPercentage: 1,
            borderWidth: 0,
            backgroundColor: (c: any) => {
              const X = c.chart.scales.x;
              if (!c.chart.chartArea || !X) return "#ccc";
              const g = c.chart.ctx.createLinearGradient(X.getPixelForValue(0), 0, X.getPixelForValue(2), 0);
              CM_VALUES.forEach((v, i) => g.addColorStop(v / 2, rgb(CM_COLORS[i])));
              return g;
            },
          },
        ],
      },
      options: {
        indexAxis: "y",
        animation: false,
        responsive: false,
        devicePixelRatio: 1,
        layout: { padding: { left: 1239, right: 144, top: 1850, bottom: 36 } },
        plugins: { legend: { display: false }, tooltip: { enabled: false } },
        events: [],
        scales: {
          y: { display: false },
          x: {
            type: "linear",
            position: "top",
            min: 0,
            max: 2,
            afterBuildTicks: (s: any) => {
              s.ticks = LEGEND_TICK_VALUES.map((value) => ({ value }));
            },
            afterFit: (s: any) => {
              s.height = 233;
            },
            border: { display: false },
            grid: { display: true, drawOnChartArea: false, tickLength: 33, tickColor: "#000", tickWidth: 3 },
            ticks: {
              autoSkip: false,
              maxRotation: 0,
              minRotation: 0,
              padding: 5,
              color: "#000",
              font: { family: "Roboto", size: 70, weight: "300" },
              callback: (v: any) => LEGEND_TICK_LABELS[LEGEND_TICK_VALUES.indexOf(v)] ?? "",
            },
            title: {
              display: true,
              text: LEGEND_TITLE,
              color: "#000",
              font: { family: "Roboto", size: 75, weight: "300" },
              padding: { top: 26, bottom: 0 },
            },
          },
        },
      },
      plugins: [legendTickPlugin],
    } as any);

    return () => {
      main.destroy();
      legend.destroy();
    };
  }, []);

  const style: React.CSSProperties = { position: "absolute", left: 0, top: 0, filter: "blur(1px)" };
  return (
    <div style={{ position: "relative", width: PAGE_W, height: PAGE_H, overflow: "hidden" }}>
      <canvas ref={mainRef} width={PAGE_W} height={PAGE_H} style={style} />
      <canvas ref={legendRef} width={PAGE_W} height={PAGE_H} style={style} />
    </div>
  );
}
